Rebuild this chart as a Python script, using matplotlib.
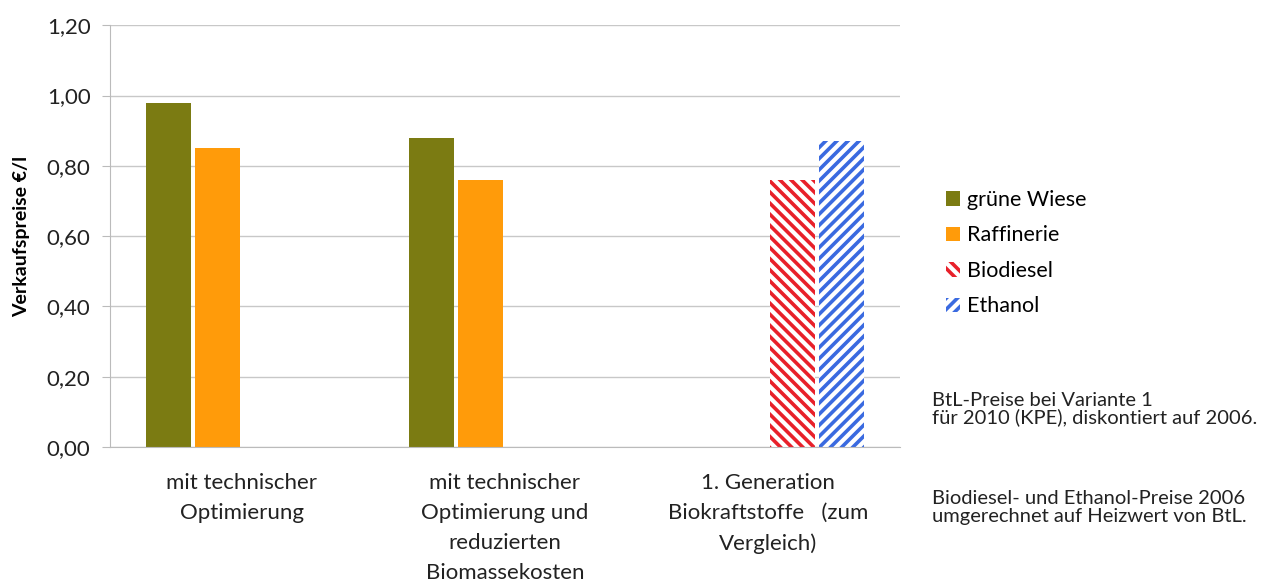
import numpy as np
import matplotlib.pyplot as plt
from matplotlib.patches import Patch

plt.rcParams['font.family'] = ['Lato', 'DejaVu Sans']
plt.rcParams['hatch.linewidth'] = 2.6

# Daten
kategorien = ["mit technischer\nOptimierung",
              "mit technischer\nOptimierung und\nreduzierten\nBiomassekosten",
              "1. Generation\nBiokraftstoffe   (zum\nVergleich)"]
gruene_wiese = [0.98, 0.88, np.nan]
raffinerie = [0.85, 0.76, np.nan]
biodiesel = [np.nan, np.nan, 0.76]
ethanol = [np.nan, np.nan, 0.87]
y_ticks = [0.0, 0.2, 0.4, 0.6, 0.8, 1.0, 1.2]

fig = plt.figure(figsize=(12.64, 5.88), dpi=100)
ax = fig.add_axes([0.087, 0.240, 0.625, 0.717])

x = np.arange(len(kategorien))
w = 0.186
ax.bar(x - 1.5 * w, gruene_wiese, width=w * 0.92, color="#7b7b12")
ax.bar(x - 0.5 * w, raffinerie, width=w * 0.92, color="#ff9b0a")
ax.bar(x + 0.5 * w, biodiesel, width=w * 0.92, color="white",
       edgecolor="#e8202a", hatch="\\\\\\", linewidth=0)
ax.bar(x + 1.5 * w, ethanol, width=w * 0.92, color="white",
       edgecolor="#3a6ae0", hatch="///", linewidth=0)

ax.set_xlim(-0.5, 2.5)
ax.set_ylim(0, 1.2)
ax.set_yticks(y_ticks)
ax.set_yticklabels([f"{v:.2f}".replace(".", ",") for v in y_ticks], fontsize=16, color="#222222")
ax.set_xticks(x)
ax.set_xticklabels(kategorien, fontsize=16, color="#222222", linespacing=1.62, va="top")
ax.tick_params(axis="x", length=0, pad=19)
ax.tick_params(axis="y", length=6, color="#bbbbbb", pad=8)
ax.set_ylabel("Verkaufspreise €/l", fontsize=14, fontweight="bold", labelpad=12)

ax.grid(axis="y", color="#c8c8c8", linewidth=1)
ax.set_axisbelow(True)
for s in ["top", "right"]:
    ax.spines[s].set_visible(False)
ax.spines["left"].set_color("#bbbbbb")
ax.spines["bottom"].set_color("#bbbbbb")

handles = [Patch(facecolor="#7b7b12", label="grüne Wiese"),
           Patch(facecolor="#ff9b0a", label="Raffinerie"),
           Patch(facecolor="white", edgecolor="#e8202a", hatch="\\\\\\", linewidth=0, label="Biodiesel"),
           Patch(facecolor="white", edgecolor="#3a6ae0", hatch="///", linewidth=0, label="Ethanol")]
fig.legend(handles=handles, loc="upper left", bbox_to_anchor=(0.733, 0.71), frameon=False,
           fontsize=15.5, handlelength=0.65, handleheight=0.65, handletextpad=0.35, labelspacing=0.72)

fig.text(0.737, 0.333, "BtL-Preise bei Variante 1\nfür 2010 (KPE), diskontiert auf 2006.",
         fontsize=14.5, va="top", linespacing=0.95, color="#222222")
fig.text(0.737, 0.167, "Biodiesel- und Ethanol-Preise 2006\numgerechnet auf Heizwert von BtL.",
         fontsize=14.5, va="top", linespacing=1.05, color="#222222")

fig.savefig("out.png", dpi=100)
